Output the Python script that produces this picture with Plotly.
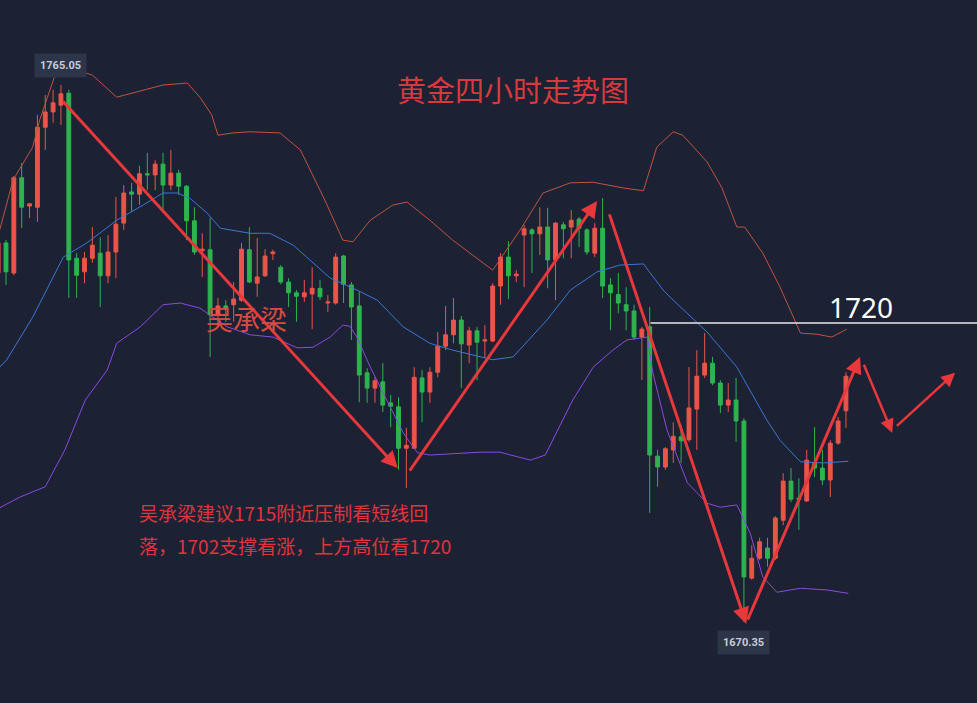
import plotly.graph_objects as go

# ---- candle data (4-hour gold bars), index = bar number ----
bar_index = list(range(-1, 108))
opens = [1731.9, 1737.2, 1731.9, 1748.7, 1743.7, 1743.5, 1757.6, 1760.3, 1761.5, 1763.6,
         1734.5, 1732.1, 1734.5, 1735.4, 1731.4, 1735.6, 1740.7, 1746.2, 1745.8, 1749.4,
         1749.2, 1751.1, 1747.4, 1749.5, 1747.2, 1741.1, 1735.8, 1736.0, 1724.5, 1726.1,
         1726.3, 1727.1, 1736.0, 1730.1, 1731.4, 1735.3, 1732.9, 1730.3, 1728.4, 1727.7,
         1728.2, 1729.2, 1726.6, 1726.6, 1734.9, 1729.8, 1726.1, 1714.3, 1711.6, 1712.7,
         1709.0, 1708.3, 1701.0, 1701.0, 1713.4, 1710.9, 1714.4, 1719.0, 1721.0, 1723.6,
         1719.2, 1721.7, 1719.9, 1719.9, 1729.6, 1734.7, 1731.4, 1738.6, 1739.5, 1738.8,
         1740.0, 1734.2, 1740.4, 1740.0, 1741.4, 1739.5, 1735.4, 1739.8, 1729.8, 1728.1,
         1726.3, 1725.2, 1720.6, 1722.4, 1699.6, 1697.7, 1700.7, 1703.0, 1702.5, 1707.9,
         1713.9, 1716.0, 1712.5, 1708.6, 1709.5, 1705.8, 1678.1, 1681.6, 1683.4, 1681.6,
         1688.3, 1695.2, 1692.2, 1691.7, 1698.5, 1697.5, 1695.4, 1701.9, 1707.6]
highs = [1737.7, 1737.7, 1749.0, 1751.3, 1744.2, 1759.8, 1763.3, 1764.2, 1765.05, 1764.2,
         1735.4, 1735.6, 1740.0, 1738.2, 1738.6, 1745.3, 1747.4, 1747.8, 1750.8, 1753.1,
         1751.8, 1753.1, 1753.6, 1750.1, 1747.4, 1743.5, 1738.9, 1741.6, 1727.5, 1727.1,
         1730.3, 1737.2, 1740.0, 1738.1, 1736.1, 1736.0, 1733.3, 1731.0, 1728.9, 1730.7,
         1732.9, 1730.7, 1728.0, 1735.4, 1735.1, 1730.3, 1728.6, 1715.1, 1713.5, 1716.0,
         1710.4, 1710.0, 1704.6, 1715.3, 1714.8, 1715.3, 1721.5, 1726.1, 1727.5, 1724.3,
         1722.4, 1722.4, 1722.7, 1730.1, 1735.4, 1737.5, 1732.4, 1740.4, 1739.8, 1743.5,
         1743.4, 1740.9, 1740.9, 1743.0, 1741.8, 1739.8, 1740.7, 1745.1, 1731.0, 1731.9,
         1729.4, 1726.3, 1722.4, 1725.9, 1700.7, 1701.2, 1705.6, 1705.1, 1715.3, 1718.3,
         1721.3, 1717.1, 1713.0, 1712.5, 1713.4, 1706.3, 1683.9, 1685.2, 1685.2, 1689.0,
         1696.6, 1697.5, 1695.7, 1700.7, 1704.7, 1700.7, 1702.4, 1706.5, 1714.4]
lows = [1730.7, 1729.8, 1731.5, 1739.8, 1741.6, 1740.9, 1753.6, 1758.4, 1758.0, 1727.5,
        1727.5, 1730.1, 1733.7, 1725.9, 1730.1, 1731.0, 1739.5, 1742.7, 1743.9, 1746.5,
        1746.5, 1742.5, 1746.5, 1745.7, 1737.7, 1735.1, 1731.2, 1717.1, 1722.7, 1723.3,
        1723.3, 1726.8, 1730.1, 1727.7, 1731.2, 1734.2, 1729.9, 1725.9, 1723.3, 1726.8,
        1722.0, 1727.1, 1725.0, 1726.3, 1726.6, 1720.1, 1709.1, 1709.0, 1709.0, 1707.4,
        1704.7, 1697.2, 1694.0, 1700.9, 1705.6, 1709.0, 1713.5, 1718.3, 1719.5, 1711.6,
        1716.0, 1713.0, 1716.9, 1719.7, 1726.3, 1727.3, 1730.3, 1729.4, 1731.9, 1735.1,
        1729.2, 1727.1, 1734.5, 1734.5, 1736.5, 1735.1, 1734.7, 1727.5, 1721.8, 1724.8,
        1721.8, 1720.1, 1713.0, 1689.6, 1694.2, 1697.2, 1698.4, 1698.4, 1702.1, 1700.7,
        1713.4, 1712.1, 1707.2, 1707.4, 1702.1, 1670.35, 1677.8, 1681.3, 1680.1, 1681.3,
        1687.4, 1691.5, 1686.6, 1691.5, 1695.9, 1694.5, 1692.4, 1701.6, 1704.6]
closes = [1737.2, 1732.1, 1748.7, 1743.5, 1744.1, 1757.6, 1760.3, 1761.9, 1763.5, 1734.2,
          1731.5, 1734.5, 1736.8, 1731.4, 1735.6, 1740.5, 1746.0, 1745.8, 1749.4, 1749.2,
          1751.1, 1747.4, 1749.5, 1747.2, 1741.1, 1735.6, 1736.1, 1724.5, 1726.1, 1725.5,
          1727.3, 1736.1, 1730.3, 1731.2, 1734.9, 1735.6, 1730.3, 1728.4, 1727.8, 1728.4,
          1729.2, 1727.7, 1726.8, 1734.7, 1729.9, 1725.9, 1713.9, 1711.6, 1712.9, 1708.6,
          1708.4, 1701.0, 1701.5, 1713.5, 1710.9, 1714.4, 1719.0, 1721.0, 1723.6, 1719.4,
          1721.7, 1719.7, 1720.1, 1729.6, 1734.7, 1731.4, 1731.7, 1739.7, 1738.8, 1740.0,
          1734.2, 1740.7, 1739.7, 1741.2, 1739.8, 1735.6, 1739.8, 1729.6, 1728.4, 1726.6,
          1725.2, 1720.6, 1722.0, 1699.8, 1697.7, 1700.9, 1703.1, 1702.3, 1708.1, 1713.7,
          1716.0, 1712.5, 1708.6, 1709.5, 1705.8, 1678.3, 1681.6, 1684.5, 1681.6, 1688.7,
          1695.2, 1692.0, 1692.0, 1698.9, 1697.5, 1695.4, 1701.9, 1705.8, 1713.7]

# ---- Bollinger bands (bar index, price) ----
upper_x = [-0.8, 0.9, 3.4, 4.3, 5.9, 6.6, 8.2, 11.0, 14.1, 17.5, 20.0, 23.1, 24.7, 26.2, 27.0,
           28.9, 31.1, 34.9, 37.5, 40.6, 42.9, 44.2, 46.4, 49.3, 51.1, 54.0, 56.9, 62.0, 65.5,
           68.4, 71.9, 74.8, 78.6, 81.2, 82.9, 85.0, 86.2, 89.3, 91.2, 93.1, 94.1, 96.4, 98.6,
           101.2, 103.3, 105.2, 107.1]
upper_y = [1739.5, 1748.3, 1754.1, 1758.9, 1765.4, 1768.2, 1768.0, 1766.8, 1762.9, 1764.2,
           1765.05, 1765.4, 1762.9, 1759.8, 1756.2, 1756.6, 1756.8, 1756.6, 1753.6, 1744.8,
           1737.7, 1737.4, 1741.2, 1743.9, 1744.4, 1741.2, 1737.7, 1732.4, 1739.5, 1746.0,
           1747.8, 1747.9, 1746.9, 1746.4, 1754.1, 1756.8, 1756.2, 1751.5, 1746.9, 1740.0,
           1740.0, 1735.4, 1729.4, 1721.3, 1721.1, 1720.6, 1722.0]
mid_x = [-0.8, 0.1, 3.4, 7.3, 10.3, 14.1, 17.5, 20.0, 21.8, 23.4, 25.6, 27.3, 31.1, 33.6, 36.6,
         41.3, 44.7, 47.3, 50.6, 54.0, 56.9, 62.0, 64.6, 68.9, 71.9, 75.3, 78.2, 81.2, 83.7,
         85.0, 89.3, 93.1, 96.9, 98.6, 101.2, 104.1, 107.3]
mid_y = [1715.3, 1716.6, 1724.1, 1734.7, 1737.2, 1741.2, 1743.9, 1746.0, 1746.0, 1745.1,
         1742.5, 1739.8, 1738.9, 1738.9, 1736.8, 1731.0, 1728.9, 1727.1, 1722.4, 1719.5,
         1718.3, 1716.6, 1717.1, 1723.6, 1728.9, 1732.1, 1733.3, 1733.5, 1728.9, 1727.1,
         1721.5, 1715.3, 1706.0, 1702.4, 1698.6, 1698.4, 1698.7]
lower_x = [-0.8, 1.8, 5.0, 7.5, 10.1, 12.9, 14.1, 17.1, 20.0, 22.2, 24.7, 28.2, 31.1, 34.0,
           37.1, 39.1, 41.3, 42.9, 43.8, 44.7, 46.4, 48.5, 50.6, 52.4, 54.0, 60.4, 62.9, 66.8,
           68.7, 70.6, 72.2, 74.8, 77.3, 79.1, 81.7, 82.4, 84.2, 86.8, 89.3, 91.0, 93.1, 94.8,
           96.4, 98.2, 101.2, 104.6, 107.3]
lower_y = [1690.5, 1692.4, 1694.2, 1700.7, 1709.5, 1714.8, 1719.5, 1722.4, 1726.3, 1726.6,
           1725.7, 1722.4, 1721.0, 1720.6, 1718.7, 1718.8, 1720.6, 1722.7, 1722.5, 1720.6,
           1715.3, 1709.5, 1703.7, 1700.2, 1699.8, 1700.3, 1700.3, 1698.9, 1699.8, 1705.1,
           1709.5, 1715.3, 1718.3, 1720.1, 1720.6, 1714.3, 1704.2, 1694.9, 1691.3, 1690.6,
           1691.0, 1686.0, 1678.3, 1675.6, 1676.3, 1676.0, 1675.4]

# ---- hand-drawn trend arrows: (tail bar, tail price, head bar, head price, width) ----
arrows = [
    (7.1, 1762.4, 49.9, 1697.5, 3),
    (51.3, 1696.8, 75.3, 1744.6, 3),
    (76.8, 1742.5, 94.3, 1670.0, 3),
    (94.4, 1670.5, 108.8, 1717.1, 3),
    (109.2, 1716.0, 112.9, 1703.7, 2.5),
    (113.3, 1704.7, 120.9, 1714.3, 2.5),
]

level_start = 82.1
level_price = 1723.1
level_label = "1720"
high_label = ("1765.05", 7, 1765.05)
low_label = ("1670.35", 94, 1670.35)

title_text = "黄金四小时走势图"
watermark_text = "吴承梁"
note_line1 = "吴承梁建议1715附近压制看短线回"
note_line2 = "落，1702支撑看涨，上方高位看1720"

BG = "#1c2133"
RED = "#eb5549"
GREEN = "#2fb34f"
TXT_RED = "#e0343c"
CJK = "Noto Sans CJK SC"

fig = go.Figure()

fig.add_trace(go.Scatter(x=upper_x, y=upper_y, mode="lines",
                         line=dict(color="#c0533f", width=1), hoverinfo="skip"))
fig.add_trace(go.Scatter(x=mid_x, y=mid_y, mode="lines",
                         line=dict(color="#3a78d6", width=1), hoverinfo="skip"))
fig.add_trace(go.Scatter(x=lower_x, y=lower_y, mode="lines",
                         line=dict(color="#8a4be0", width=1), hoverinfo="skip"))

fig.add_trace(go.Candlestick(
    x=bar_index, open=opens, high=highs, low=lows, close=closes,
    increasing=dict(line=dict(color=RED, width=1), fillcolor=RED),
    decreasing=dict(line=dict(color=GREEN, width=1), fillcolor=GREEN),
    whiskerwidth=0,
))

# horizontal resistance line
fig.add_shape(type="line", xref="x", yref="y", x0=level_start, x1=124,
              y0=level_price, y1=level_price, line=dict(color="#e8e8e8", width=1.5))

annotations = []
for tx, ty, hx, hy, w in arrows:
    annotations.append(dict(x=hx, y=hy, ax=tx, ay=ty, xref="x", yref="y",
                            axref="x", ayref="y", showarrow=True, arrowhead=2,
                            arrowsize=1.1, arrowwidth=w, arrowcolor="#e8383b", text=""))

annotations.append(dict(x=level_start, y=level_price, xref="x", yref="y",
                        text=level_label, showarrow=False, xanchor="left", yanchor="bottom",
                        xshift=176, yshift=-5,
                        font=dict(family="Noto Sans", size=28, color="#ffffff")))
for txt, bx, by in (high_label, low_label):
    annotations.append(dict(x=bx, y=by, xref="x", yref="y", text="<b>" + txt + "</b>",
                            showarrow=False, bgcolor="#2c3549", borderpad=5,
                            xanchor="center", yanchor="middle",
                            yshift=20 if by > 1700 else -20,
                            font=dict(family="Roboto", size=11, color="#c9cdd6")))

annotations.append(dict(x=513 / 977, y=1 - 89 / 703, xref="paper", yref="paper",
                        text=title_text, showarrow=False, xanchor="center", yanchor="middle",
                        font=dict(family=CJK, size=29, color="#d8393d")))
annotations.append(dict(x=247 / 977, y=1 - 318 / 703, xref="paper", yref="paper",
                        text=watermark_text, showarrow=False, xanchor="center",
                        yanchor="middle",
                        font=dict(family=CJK, size=27, color="#d84a42")))
annotations.append(dict(x=137 / 977, y=1 - 512 / 703, xref="paper", yref="paper",
                        text=note_line1, showarrow=False, xanchor="left", yanchor="middle",
                        font=dict(family=CJK, size=19, color=TXT_RED)))
annotations.append(dict(x=137 / 977, y=1 - 545 / 703, xref="paper", yref="paper",
                        text=note_line2, showarrow=False, xanchor="left", yanchor="middle",
                        font=dict(family=CJK, size=19, color=TXT_RED)))

fig.update_layout(
    width=977, height=703,
    margin=dict(l=0, r=0, t=0, b=0),
    paper_bgcolor=BG, plot_bgcolor=BG,
    showlegend=False,
    hovermode=False,
    annotations=annotations,
    xaxis=dict(range=[-0.764, 123.69], visible=False, rangeslider=dict(visible=False),
               fixedrange=True),
    yaxis=dict(range=[1656.07, 1780.04], visible=False, fixedrange=True),
)

fig.write_html("out.html",
               config={"displayModeBar": False, "staticPlot": True},
               post_script="document.body.style.margin='0';"
                           "document.body.style.overflow='hidden';"
                           "document.body.style.background='#1c2133';")
